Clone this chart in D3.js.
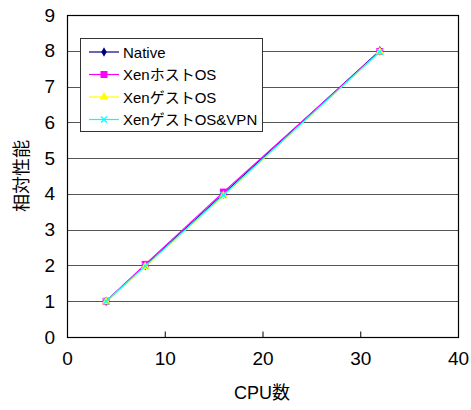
<!DOCTYPE html>
<html>
<head>
<meta charset="utf-8">
<script src="https://cdn.jsdelivr.net/npm/d3@7"></script>
<style>
  body { margin: 0; background: #fff; }
  text { font-family: "Liberation Sans", "Noto Sans CJK JP", sans-serif; }
</style>
</head>
<body>
<div class="chart"></div>
<script>
let cpus = [4, 8, 16, 32];
let seriesNames = ['Native', 'XenホストOS', 'XenゲストOS', 'XenゲストOS&VPN'];
let nativeVals = [1, 2, 4, 8];
let hostVals = [1, 2.03, 4.05, 7.98];
let guestVals = [0.99, 1.97, 3.95, 7.97];
let vpnVals = [1, 1.98, 3.97, 7.97];
let xTicks = [0, 10, 20, 30, 40];
let yTicks = [0, 1, 2, 3, 4, 5, 6, 7, 8, 9];

let width = 471;
let height = 410;
let plotLeft = 67, plotRight = 458, plotTop = 15, plotBottom = 337;

let colors = ['#000080', '#ff00ff', '#ffff00', '#00ffff'];
let markers = ['diamond', 'square', 'triangle', 'x'];
let allVals = [nativeVals, hostVals, guestVals, vpnVals];

let svg = d3.select('.chart')
            .append('svg')
            .attr('width', width)
            .attr('height', height);

let x = d3.scaleLinear().domain([0, 40]).range([plotLeft, plotRight]);
let y = d3.scaleLinear().domain([0, 9]).range([plotBottom, plotTop]);

// gridlines
svg.append('g')
   .selectAll('line')
   .data(yTicks.filter(d => d > 0 && d < 9))
   .enter()
   .append('line')
   .attr('x1', plotLeft).attr('x2', plotRight)
   .attr('y1', d => Math.round(y(d)) + 0.5)
   .attr('y2', d => Math.round(y(d)) + 0.5)
   .attr('stroke', '#555')
   .attr('stroke-width', 1);

// frame
svg.append('rect')
   .attr('x', plotLeft + 0.5).attr('y', plotTop + 0.5)
   .attr('width', plotRight - plotLeft).attr('height', plotBottom - plotTop)
   .attr('fill', 'none')
   .attr('stroke', '#000')
   .attr('stroke-width', 1.2);

// x axis (ticks point inward)
let xAxis = d3.axisBottom(x).tickValues(xTicks).tickSize(-6).tickPadding(14);
let gx = svg.append('g')
            .attr('transform', 'translate(0,' + (plotBottom + 0.5) + ')')
            .call(xAxis);
gx.select('.domain').remove();
gx.selectAll('line').attr('stroke', '#000');
gx.selectAll('text').attr('font-size', 19).attr('fill', '#000');

let yAxis = d3.axisLeft(y).tickValues(yTicks).tickSize(0).tickPadding(12);
let gy = svg.append('g')
            .attr('transform', 'translate(' + plotLeft + ',0)')
            .call(yAxis);
gy.select('.domain').remove();
gy.selectAll('text').attr('font-size', 19).attr('fill', '#000');

// axis titles
svg.append('text')
   .attr('x', 262).attr('y', 399)
   .attr('text-anchor', 'middle')
   .attr('font-size', 18)
   .text('CPU数');
svg.append('text')
   .attr('transform', 'translate(28,176) rotate(-90)')
   .attr('text-anchor', 'middle')
   .attr('font-size', 18)
   .text('相対性能');

function drawMarker(g, type, color, cx, cy) {
  if (type === 'diamond') {
    g.append('path')
     .attr('d', d3.symbol().type(d3.symbolDiamond).size(26)())
     .attr('transform', 'translate(' + cx + ',' + cy + ')')
     .attr('fill', color);
  } else if (type === 'square') {
    g.append('rect')
     .attr('x', cx - 3.5).attr('y', cy - 3.5)
     .attr('width', 7).attr('height', 7)
     .attr('fill', color);
  } else if (type === 'triangle') {
    g.append('path')
     .attr('d', d3.symbol().type(d3.symbolTriangle).size(34)())
     .attr('transform', 'translate(' + cx + ',' + cy + ')')
     .attr('fill', color);
  } else {
    g.append('path')
     .attr('d', 'M-3,-3L3,3M-3,3L3,-3')
     .attr('transform', 'translate(' + cx + ',' + cy + ')')
     .attr('stroke', color)
     .attr('stroke-width', 1.2);
  }
}

let line = d3.line().x(d => x(d[0])).y(d => y(d[1]));

allVals.forEach((vals, i) => {
  let pts = cpus.map((c, j) => [c, vals[j]]);
  let g = svg.append('g');
  g.append('path')
   .attr('d', line(pts))
   .attr('fill', 'none')
   .attr('stroke', colors[i])
   .attr('stroke-width', 1.2);
  pts.forEach(p => drawMarker(g, markers[i], colors[i], x(p[0]), y(p[1])));
});

// legend
let legend = svg.append('g');
legend.append('rect')
      .attr('x', 80.5).attr('y', 38.5)
      .attr('width', 182).attr('height', 93)
      .attr('fill', '#fff')
      .attr('stroke', '#333')
      .attr('stroke-width', 1);
seriesNames.forEach((name, i) => {
  let ly = 52 + i * 22.5;
  legend.append('line')
        .attr('x1', 89).attr('x2', 119)
        .attr('y1', ly).attr('y2', ly)
        .attr('stroke', colors[i])
        .attr('stroke-width', 1.2);
  drawMarker(legend, markers[i], colors[i], 104, ly);
  legend.append('text')
        .attr('x', 123).attr('y', ly + 5.5)
        .attr('font-size', 15)
        .attr('textLength', name.length > 12 ? 134 : null)
        .text(name);
});
</script>
</body>
</html>
